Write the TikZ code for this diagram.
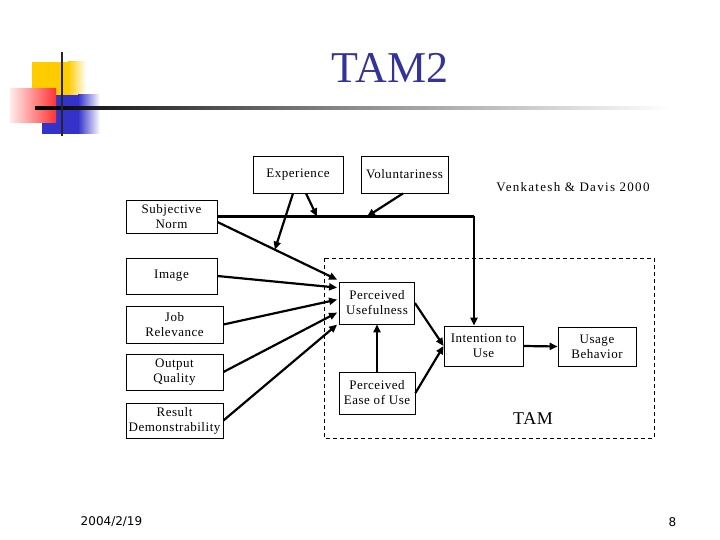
\documentclass[tikz,border=0pt]{standalone}
\usepackage{fontspec}
\setmainfont{Liberation Serif}
\newfontfamily\boxfont[LetterSpace=4]{Liberation Serif}
\newfontfamily\venkfont[LetterSpace=10]{Liberation Serif}
\newfontfamily\footfont{DejaVu Sans}
\usetikzlibrary{arrows.meta,calc}
\definecolor{titleblue}{HTML}{333399}
\definecolor{decoyellow}{HTML}{FFCC00}
\definecolor{decoblue}{HTML}{3333CC}
\definecolor{decored}{HTML}{FF3333}
\tikzset{
  box/.style={draw, line width=0.8pt, inner sep=1pt, align=center,
    font={\boxfont\fontsize{13}{15}\selectfont}},
  conn/.style={line width=2.2pt, -{Triangle[length=8pt,width=7pt]}},
  plainconn/.style={line width=2.2pt, line join=miter},
}
\begin{document}
\begin{tikzpicture}[x=1pt,y=-1pt]
\useasboundingbox (0,0) rectangle (720,540);
% decoration
\fill[decoyellow] (32,62) rectangle (68,110);
\shade[left color=decoyellow,right color=white] (68,62) rectangle (86,110);
\fill[decoblue] (42,95) rectangle (78,134);
\shade[left color=decoblue,right color=white] (78,95) rectangle (100,134);
\shade[left color=decored!10,right color=decored] (10,89) rectangle (56,123);
\shade[left color=black, right color=white, middle color=black!45] (35,106.8) rectangle (670,109.6);
\draw[line width=2pt, black!85] (62,52) -- (62,136);
% title
\node[text=titleblue, font={\fontsize{44}{44}\selectfont}] (title) at (390,68) {TAM2};
% boxes
\node[box, minimum width=90pt, minimum height=37pt] (exp) at (298,174.5) {Experience};
\node[box, minimum width=87pt, minimum height=37pt] (vol) at (404.5,174.5) {Voluntariness};
\node[font={\venkfont\fontsize{13}{15}\selectfont}] (venk) at (573,187) {Venkatesh \& Davis 2000};
\node[box, minimum width=91pt, minimum height=33pt] (subj) at (171.5,216.5) {Subjective\\Norm};
\node[box, minimum width=91pt, minimum height=36pt] (image) at (171.5,276) {Image};
\node[box, minimum width=97pt, minimum height=37pt] (job) at (174.5,324.5) {Job\\Relevance};
\node[box, minimum width=97pt, minimum height=36pt] (out) at (174.5,372) {Output\\Quality};
\node[box, minimum width=97pt, minimum height=35pt] (res) at (174.5,420.5) {Result\\Demonstrability};
\node[box, minimum width=75pt, minimum height=42pt] (pu) at (377,303) {Perceived\\Usefulness};
\node[box, minimum width=76pt, minimum height=42pt] (peou) at (377,393) {Perceived\\Ease of Use};
\node[box, minimum width=79pt, minimum height=40pt] (int) at (483.5,346) {Intention to\\Use};
\node[box, minimum width=78pt, minimum height=39pt] (use) at (597,346.5) {Usage\\Behavior};
% TAM dashed frame
\draw[line width=0.8pt, dash pattern=on 4pt off 3pt] (324,258) rectangle (654,438);
\node[font={\boxfont\fontsize{18}{18}\selectfont}] (tam) at (533,419) {TAM};
% footer
\node[font={\footfont\fontsize{12}{12}\selectfont}] (date) at (111.5,522) {2004/2/19};
\node[font={\footfont\fontsize{12}{12}\selectfont}] (page) at (672.5,522) {8};
% connectors
\coordinate (corner) at (474,216.5);
\draw[plainconn] (subj.east) -- (corner);
\draw[conn] (corner) -- (corner |- int.north);
\coordinate (expto) at (317,216.5);
\coordinate (volto) at (367,216.5);
\draw[conn] ($(exp.south)+(8,0)$) -- (expto);
\draw[conn] ($(vol.south)+(-1.5,0)$) -- (volto);
\coordinate (puA) at ($(pu.north west)+(-2,-2)$);
\coordinate (puB) at ($(pu.north west)+(-2,6)$);
\coordinate (puC) at ($(pu.north west)+(-2,18)$);
\coordinate (puD) at ($(pu.north west)+(-2,31)$);
\coordinate (puE) at ($(pu.north west)+(-2,43)$);
\coordinate (subjS) at ($(subj.east)+(0,5.5)$);
\draw[conn] (subjS) -- (puA);
\coordinate (sline) at ($(subjS)!0.48!(puA)$);
\draw[conn] ($(exp.south)+(-5,0)$) -- (sline);
\draw[conn] (image.east) -- (puB);
\draw[conn] (job.east) -- (puC);
\draw[conn] (out.east) -- (puD);
\draw[conn] (res.east) -- (puE);
\draw[conn] (peou.north) -- (pu.south);
\draw[conn] (pu.east) -- (int.west);
\draw[conn] (peou.east) -- (int.west);
\draw[conn] (int.east) -- (use.west);
\end{tikzpicture}
\end{document}
